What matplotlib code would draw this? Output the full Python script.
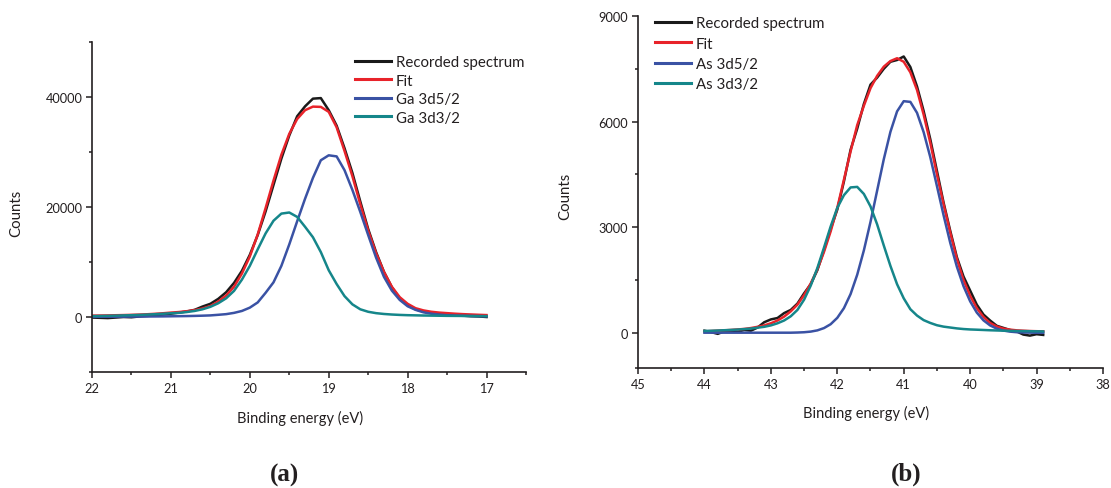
import numpy as np
import matplotlib
matplotlib.use("Agg")
import matplotlib.pyplot as plt
from matplotlib.ticker import MultipleLocator, FixedLocator

# ---------------- data: panel (a) Ga 3d ----------------
energy_a = np.round(np.arange(22.0, 16.95, -0.1), 1)   # 22.0 ... 17.0
recorded_a = [-100, -150, -200, -100, 0, -50, 100, 200, 300, 450,
              600, 800, 1000, 1300, 1900, 2400, 3300, 4500, 6200, 8400,
              11300, 14900, 19200, 24000, 28800, 33000, 36500, 38300, 39700, 39800,
              37600, 34800, 30700, 26200, 21000, 16000, 11800, 8200, 5400, 3400,
              2200, 1400, 1000, 700, 500, 400, 300, 250, 150, 100, 0]
fit_a = [250, 270, 290, 320, 350, 390, 440, 500, 580, 680,
         800, 900, 1050, 1250, 1550, 2000, 2800, 3900, 5500, 7900,
         11000, 15000, 19800, 24800, 29500, 33300, 36000, 37600, 38250, 38200,
         37300, 34500, 30200, 25600, 20500, 15700, 11600, 8200, 5500, 3600,
         2400, 1600, 1200, 950, 800, 700, 600, 520, 460, 400, 350]
ga52 = [40, 45, 50, 55, 60, 70, 80, 90, 100, 110,
        130, 150, 170, 200, 240, 290, 400, 520, 750, 1100,
        1700, 2650, 4400, 6300, 9300, 13200, 17400, 21500, 25300, 28500,
        29400, 29200, 26700, 23100, 19100, 14900, 10800, 7300, 4800, 3100,
        1950, 1300, 850, 600, 430, 320, 260, 220, 180, 150, 130]
ga32 = [160, 190, 220, 250, 290, 330, 380, 440, 510, 590,
        680, 750, 900, 1100, 1400, 1850, 2500, 3400, 4750, 6800,
        9300, 12300, 15200, 17500, 18800, 19000, 18200, 16400, 14500, 11800,
        8500, 6000, 3800, 2300, 1400, 950, 700, 550, 450, 380,
        330, 300, 270, 250, 230, 210, 200, 190, 180, 170, 160]

# ---------------- data: panel (b) As 3d ----------------
energy_b = np.round(np.arange(44.0, 38.85, -0.1), 1)   # 44.0 ... 38.9
recorded_b = [60, 20, -30, 40, 60, 30, 80, 60, 150, 300,
              380, 420, 560, 650, 830, 1120, 1380, 1780, 2350, 2950,
              3500, 4300, 5200, 5800, 6500, 7050, 7250, 7500, 7700, 7750,
              7850, 7550, 7000, 6300, 5500, 4600, 3700, 2900, 2150, 1600,
              1200, 800, 520, 350, 200, 140, 80, 40, -50, -80, -40, -60]
fit_b = [40, 50, 60, 70, 80, 95, 110, 135, 170, 210,
         270, 350, 460, 610, 800, 1070, 1400, 1800, 2300, 2880,
         3550, 4350, 5150, 5900, 6450, 6950, 7300, 7560, 7720, 7800,
         7700, 7400, 6900, 6200, 5400, 4500, 3650, 2850, 2100, 1500,
         1050, 700, 450, 280, 180, 120, 90, 70, 60, 50, 45, 40]
as52 = [3, 3, 3, 3, 3, 3, 3, 3, 3, 3,
        3, 3, 3, 3, 8, 16, 34, 69, 134, 244,
        425, 700, 1100, 1650, 2340, 3150, 4040, 4930, 5710, 6290,
        6580, 6560, 6250, 5700, 4990, 4170, 3340, 2560, 1880, 1325,
        895, 575, 355, 210, 119, 64, 33, 17, 9, 5, 3, 2]
as32 = [52, 58, 65, 73, 82, 92, 105, 120, 145, 170,
        210, 270, 350, 470, 650, 940, 1340, 1840, 2420, 3020,
        3550, 3910, 4130, 4145, 3945, 3590, 3080, 2480, 1900, 1380,
        980, 670, 490, 360, 280, 215, 175, 150, 125, 107,
        95, 88, 80, 72, 66, 60, 56, 52, 48, 45, 42, 40]

labels_a = ["Recorded spectrum", "Fit", "Ga 3d5/2", "Ga 3d3/2"]
labels_b = ["Recorded spectrum", "Fit", "As 3d5/2", "As 3d3/2"]
colors = ["#1a1a1a", "#e8232a", "#3a52a4", "#15868a"]

plt.rcParams['font.family'] = ['Lato', 'DejaVu Sans']
txt = "#231f20"

fig = plt.figure(figsize=(11.11, 4.89), dpi=100)
W, H = 1111, 489
def axes_px(l, t, r, b):
    return fig.add_axes([l / W, 1 - b / H, (r - l) / W, (b - t) / H])

ax_a = axes_px(92, 43, 526, 373)
ax_b = axes_px(638, 17, 1103, 369)

def style(ax, xlim, ylim, xmaj, ymaj, ymin):
    ax.set_xlim(*xlim)
    ax.set_ylim(*ylim)
    ax.spines['top'].set_visible(False)
    ax.spines['right'].set_visible(False)
    for s in ('left', 'bottom'):
        ax.spines[s].set_linewidth(1.2)
        ax.spines[s].set_color(txt)
    ax.xaxis.set_major_locator(FixedLocator(xmaj))
    ax.xaxis.set_minor_locator(MultipleLocator(0.5))
    ax.yaxis.set_major_locator(FixedLocator(ymaj))
    ax.yaxis.set_minor_locator(FixedLocator(ymin))
    ax.tick_params(which='major', direction='out', length=4, width=1.1,
                   labelsize=9.2, colors=txt, pad=3)
    ax.tick_params(which='minor', direction='out', length=2.5, width=1.1, colors=txt)
    ax.set_xlabel("Binding energy (eV)", fontsize=10.5, color=txt)
    ax.set_ylabel("Counts", fontsize=10.8, color=txt)

style(ax_a, (22, 16.5), (-10000, 50000), [22, 21, 20, 19, 18, 17],
      [0, 20000, 40000], [-10000, 10000, 30000, 50000])
style(ax_b, (45, 38), (-1000, 9000), [45, 44, 43, 42, 41, 40, 39, 38],
      [0, 3000, 6000, 9000], [-1000, 1500, 4500, 7500])
ax_a.xaxis.set_label_coords(0.48, -0.115)
ax_a.yaxis.set_label_coords(-0.159, 0.485)
ax_b.xaxis.set_label_coords(0.49, -0.105)
ax_b.yaxis.set_label_coords(-0.142, 0.489)

for ys, c, lab in zip([recorded_a, fit_a, ga52, ga32], colors, labels_a):
    ax_a.plot(energy_a, ys, color=c, lw=1.8, label=lab, solid_joinstyle='round')
for ys, c, lab in zip([recorded_b, fit_b, as52, as32], colors, labels_b):
    ax_b.plot(energy_b, ys, color=c, lw=1.8, label=lab, solid_joinstyle='round')

leg_kw = dict(frameon=False, fontsize=10.8, handlelength=2.4, handletextpad=0.3,
              borderpad=0, borderaxespad=0, loc='upper left')
lg_a = ax_a.legend(bbox_to_anchor=(0.606, 0.96), labelspacing=0.3, **leg_kw)
lg_b = ax_b.legend(bbox_to_anchor=(0.037, 0.999), labelspacing=0.42, **leg_kw)
for lg in (lg_a, lg_b):
    for t in lg.get_texts():
        t.set_color(txt)
    for l in lg.get_lines():
        l.set_linewidth(2.2)

fig.text(284.5 / W, 1 - 475 / H, "(a)", ha='center', va='center', fontsize=18,
         fontweight='bold', family='Liberation Serif', color=txt)
fig.text(906 / W, 1 - 474 / H, "(b)", ha='center', va='center', fontsize=18,
         fontweight='bold', family='Liberation Serif', color=txt)

fig.savefig("out.png", dpi=100)
